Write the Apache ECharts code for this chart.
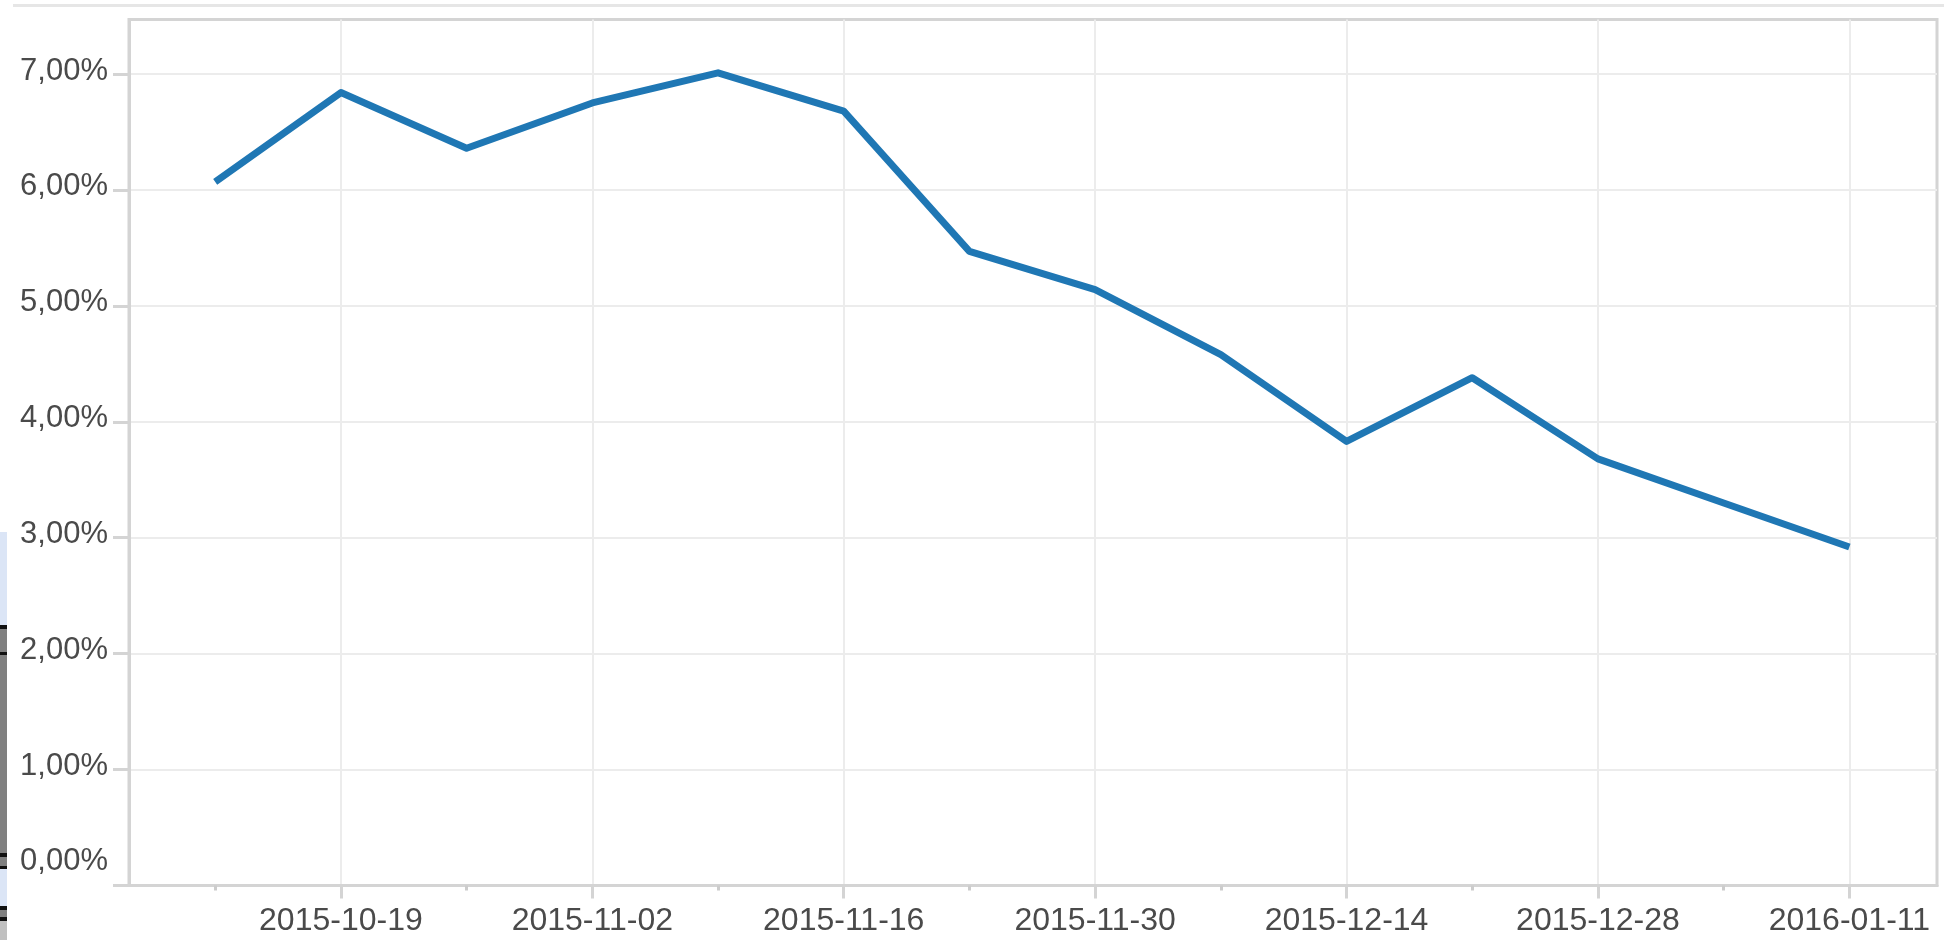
<!DOCTYPE html>
<html>
<head>
<meta charset="utf-8">
<script src="https://cdn.jsdelivr.net/npm/echarts@6/dist/echarts.min.js"></script>
<style>
  html, body { margin: 0; padding: 0; background: #ffffff; }
  #chart { width: 1957px; height: 940px; }
</style>
</head>
<body>
<div id="chart"></div>
<script>
// ---- data ----
const dates = ['2015-10-12','2015-10-19','2015-10-26','2015-11-02','2015-11-09','2015-11-16','2015-11-23',
               '2015-11-30','2015-12-07','2015-12-14','2015-12-21','2015-12-28','2016-01-04','2016-01-11'];
const rates = [6.07, 6.84, 6.36, 6.75, 7.01, 6.68, 5.47, 5.14, 4.58, 3.83, 4.38, 3.68, 3.30, 2.92];
const xLabelDates = ['2015-10-19','2015-11-02','2015-11-16','2015-11-30','2015-12-14','2015-12-28','2016-01-11'];
const xMinorTickDates = ['2015-10-12','2015-10-26','2015-11-09','2015-11-23','2015-12-07','2015-12-21','2016-01-04'];
const yTicks = [0, 1, 2, 3, 4, 5, 6, 7];

// ---- helpers ----
const DAY = 86400000;
const ts = s => Date.parse(s + 'T00:00:00Z');
const fmtDate = v => new Date(v).toISOString().slice(0, 10);
const fmtPct = v => v.toFixed(2).replace('.', ',') + '%';

const xMin = ts(dates[0]) - 4.8 * DAY;
const xMax = ts(dates[dates.length - 1]) + 4.88 * DAY;
const seriesData = dates.map((d, i) => [ts(d), rates[i]]);

const frameColor = '#d4d4d4';
const gridColor = '#ececec';
const textColor = '#4a4a4a';
const font = '"Liberation Sans", Arial, sans-serif';

// screenshot artifacts at left edge
const sideBands = [
  [532, 625, '#dbe5f6'], [625, 629, '#111111'], [629, 652, '#808080'], [652, 655, '#111111'],
  [655, 853, '#808080'], [853, 857, '#111111'], [857, 866, '#808080'], [866, 869, '#111111'],
  [869, 906, '#dbe5f6'], [906, 910, '#111111'], [910, 917, '#808080'], [917, 921, '#111111'],
  [921, 940, '#c0c0c0']
];
const graphics = sideBands.map(b => ({
  type: 'rect', shape: { x: 0, y: b[0], width: 7, height: b[1] - b[0] },
  style: { fill: b[2] }, silent: true
}));
graphics.push({ type: 'rect', shape: { x: 13, y: 4, width: 1931, height: 3 }, style: { fill: '#e6e6e6' }, silent: true });

const chart = echarts.init(document.getElementById('chart'), null, { renderer: 'canvas' });
chart.setOption({
  animation: false,
  backgroundColor: '#ffffff',
  graphic: graphics,
  grid: {
    left: 129, right: 20, top: 19.5, bottom: 54.5,
    containLabel: false, outerBoundsMode: 'none',
    show: true, borderColor: frameColor, borderWidth: 3, backgroundColor: 'transparent'
  },
  xAxis: [{
    type: 'value', min: xMin, max: xMax,
    axisLine: { show: true, lineStyle: { color: frameColor, width: 3 } },
    axisTick: { show: true, length: 13, lineStyle: { color: frameColor, width: 3 },
                customValues: xLabelDates.map(ts) },
    axisLabel: { show: true, customValues: xLabelDates.map(ts), formatter: v => fmtDate(v),
                 color: textColor, fontFamily: font, fontSize: 32, margin: 20 },
    splitLine: { show: true, lineStyle: { color: gridColor, width: 2 } }
  }, {
    type: 'value', min: xMin, max: xMax, position: 'bottom', gridIndex: 0,
    axisLine: { show: false },
    axisTick: { show: true, length: 5, lineStyle: { color: '#cccccc', width: 3 },
                customValues: xMinorTickDates.map(ts) },
    axisLabel: { show: false },
    splitLine: { show: false }
  }],
  yAxis: {
    type: 'value', min: 0, max: 7.47,
    axisLine: { show: true, lineStyle: { color: frameColor, width: 3 } },
    axisTick: { show: true, length: 16, lineStyle: { color: frameColor, width: 3 }, customValues: yTicks },
    axisLabel: {
      customValues: yTicks, margin: 21,
      formatter: v => (v === 0 ? '{z|' : '{n|') + fmtPct(v) + '}',
      rich: {
        n: { color: textColor, fontFamily: font, fontSize: 31, padding: [0, 0, 6, 0] },
        z: { color: textColor, fontFamily: font, fontSize: 31, padding: [0, 0, 48, 0] }
      }
    },
    splitLine: { show: true, lineStyle: { color: gridColor, width: 2 } }
  },
  series: [{
    type: 'line', xAxisIndex: 0, yAxisIndex: 0,
    data: seriesData, showSymbol: false, symbol: 'none',
    lineStyle: { color: '#1f77b4', width: 7, join: 'round' },
    z: 5
  }]
});
</script>
</body>
</html>
